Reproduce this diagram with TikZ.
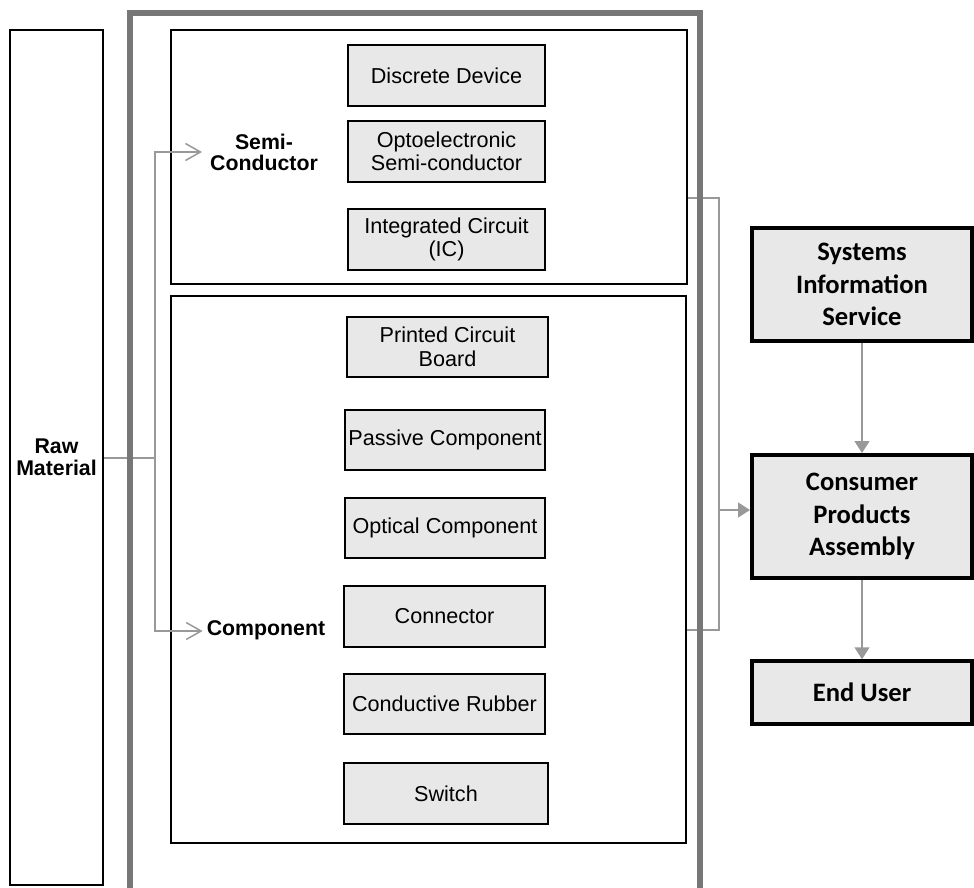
\documentclass[tikz,border=0pt]{standalone}
\usepackage{fontspec}
\setmainfont{Liberation Sans}
\newfontfamily\calib{Carlito}
\usetikzlibrary{arrows.meta}
\definecolor{boxfill}{HTML}{E8E8E8}
\definecolor{framegray}{HTML}{777777}
\definecolor{linegray}{HTML}{999999}
\tikzset{
  ibox/.style={draw=black, line width=2pt, fill=boxfill, inner sep=0pt, align=center,
    font=\fontsize{21.6}{23.5}\selectfont, minimum width=#1},
  ibox/.default=200pt,
  group/.style={draw=black, line width=2pt, inner sep=0pt},
  rbox/.style={draw=black, line width=3.5pt, fill=boxfill, inner sep=0pt, align=center,
    font=\calib\bfseries\fontsize{26.6}{32.5}\selectfont, minimum width=220pt},
  lbl/.style={align=center, inner sep=3pt, font=\bfseries\fontsize{21.3}{21}\selectfont},
  gline/.style={draw=linegray, line width=1.5pt},
  barb/.style={-{Straight Barb[length=15pt,width=17pt,line width=1.5pt]}},
  tri/.style={-{Triangle[length=12pt,width=15pt]}},
}
\begin{document}
\begin{tikzpicture}[x=1pt,y=-1pt]
\useasboundingbox (0,0) rectangle (974,887);
\clip (0,0) rectangle (974,887);
% left raw material box
\node[group, line width=2.5pt, minimum width=93pt, minimum height=855pt, align=center,
  font=\bfseries\fontsize{21.3}{21.5}\selectfont] (raw) at (56.5,457.5) {Raw\\Material};
% group boxes
\node[group, minimum width=516pt, minimum height=254pt] (semi) at (429,157) {};
\node[group, minimum width=515pt, minimum height=547pt] (comp) at (428.5,569.5) {};
% labels
\node[lbl] (semilbl) at (264,152) {Semi-\\Conductor};
\node[lbl] (complbl) at (266,630) {Component};
% semiconductor items
\node[ibox=197pt, minimum height=61pt] (dd) at (446.5,75.5) {Discrete Device};
\node[ibox=197pt, minimum height=61pt] (opto) at (446.5,151.5) {Optoelectronic\\Semi-conductor};
\node[ibox=197pt, minimum height=61pt] (ic) at (446.5,239.5) {Integrated Circuit\\(IC)};
% component items
\node[ibox=201pt, minimum height=60pt] (pcb) at (447.5,347) {Printed Circuit\\Board};
\node[ibox=200pt, minimum height=60pt] (pass) at (445,440) {Passive Component};
\node[ibox=200pt, minimum height=60pt] (opt) at (445,528) {Optical Component};
\node[ibox=201pt, minimum height=61pt] (conn) at (444.5,616.5) {Connector};
\node[ibox=201pt, minimum height=60pt] (rub) at (444.5,704) {Conductive Rubber};
\node[ibox=204pt, minimum height=61pt] (sw) at (446,793.5) {Switch};
% right boxes
\node[rbox, minimum height=113pt] (sis) at (862,284.5) {Systems\\Information\\Service};
\node[rbox, line width=4pt, minimum height=123pt] (cpa) at (862,516.5) {Consumer\\Products\\Assembly};
\node[rbox, minimum height=63pt] (eu) at (862,692.5) {End User};
% left connectors
\coordinate (j) at (155,458);
\draw[gline] (raw.east |- j) -- (j);
\draw[gline, barb] (j) |- ([xshift=-5pt]semilbl.west);
\draw[gline, barb] (j) |- ([xshift=-1pt,yshift=-1pt]complbl.west);
% right connectors
\coordinate (ra) at (719,198);
\coordinate (rb) at (719,630);
\coordinate (rc) at (719,510);
\draw[gline] (semi.east |- ra) -- (ra) -- (rb) -- (comp.east |- rb);
\draw[gline, tri] (rc) -- (cpa.west |- rc);
\draw[gline, tri] (sis.south) -- (cpa.north);
\draw[gline, tri] (cpa.south) -- (eu.north);
% outer frame
\draw[framegray, line width=6pt] (130,895) -- (130,12.5) -- (700,12.5) -- (700,895);
\end{tikzpicture}
\end{document}
